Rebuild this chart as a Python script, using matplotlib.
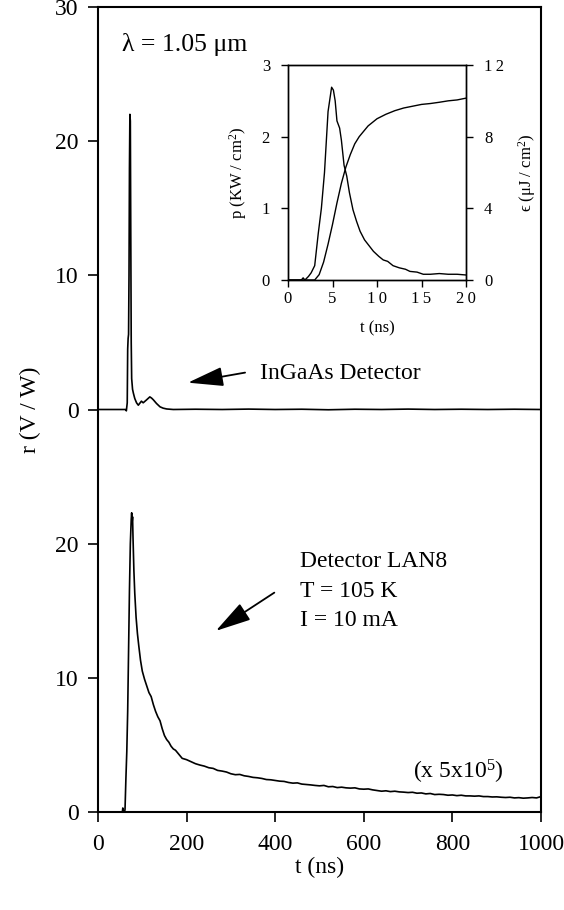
import matplotlib
matplotlib.use("Agg")
import matplotlib.pyplot as plt

plt.rcParams["font.family"] = ["Liberation Serif", "DejaVu Serif"]
plt.rcParams["mathtext.fontset"] = "custom"
plt.rcParams["mathtext.rm"] = "Liberation Serif"
plt.rcParams["mathtext.it"] = "Liberation Serif:italic"

# ---- InGaAs reference detector response r (V/W) vs t (ns)
t_ingaas = [0, 50, 62, 64, 66, 67, 68, 69, 70, 71, 72, 73, 74, 75, 76, 78, 80, 83,
            87, 91, 94, 98, 102, 109, 114, 117, 121, 125, 132, 140, 147, 155, 170,
            220, 280, 340, 400, 460, 520, 580, 640, 700, 760, 820, 880, 940, 1000]
r_ingaas = [0, 0, 0, -0.1, 0.5, 4.5, 5.3, 5.6, 10, 18, 22, 21.5, 13, 5, 2.3, 1.5, 1.2, 0.82,
            0.5, 0.32, 0.45, 0.62, 0.5, 0.7, 0.85, 0.94, 0.85, 0.72, 0.45, 0.2, 0.1, 0.04, 0,
            0.02, 0, 0.03, 0, 0.02, -0.02, 0.02, 0, 0.03, 0, 0.02, 0, 0.02, 0]

# ---- LAN8 detector response (T = 105 K, I = 10 mA), shown multiplied by 5x10^5
t_lan8 = [0, 50, 55, 56, 57, 60, 61, 63, 65, 67, 69, 71, 73, 75, 76, 77, 78, 79, 81, 83,
          86, 89, 92, 96, 100, 105, 110, 115, 120, 125, 130, 135, 140, 145, 150, 155,
          160, 165, 170, 175, 180, 185, 190, 195, 200, 210, 220, 230, 240, 250, 260,
          270, 280, 290, 300, 310, 320, 330, 340, 350, 360, 370, 380, 390, 400, 410,
          420, 430, 440, 450, 460, 470, 480, 490, 500, 510, 520, 530, 540, 550, 560,
          570, 580, 590, 600, 610, 620, 630, 640, 650, 660, 670, 680, 690, 700, 710,
          720, 730, 740, 750, 760, 770, 780, 790, 800, 810, 820, 830, 840, 850, 860,
          870, 880, 890, 900, 910, 920, 930, 940, 950, 960, 970, 980, 990, 1000]
r_lan8 = [0, 0, 0, 0.3, 0, 0, 0.2, 2.5, 4.5, 7.5, 12, 16.5, 20, 21.8, 22.3, 21.6, 22.0, 20.5, 18, 16.3,
          14.5, 13.3, 12.4, 11.3, 10.5, 9.9, 9.4, 8.9, 8.6, 8.0, 7.5, 7.1, 6.8, 6.2, 5.7, 5.4,
          5.2, 4.9, 4.7, 4.6, 4.4, 4.2, 4.0, 3.95, 3.9, 3.75, 3.6, 3.5, 3.42, 3.3, 3.25,
          3.1, 3.05, 2.98, 2.85, 2.78, 2.8, 2.7, 2.65, 2.58, 2.55, 2.5, 2.42, 2.4, 2.35, 2.3,
          2.28, 2.2, 2.15, 2.17, 2.08, 2.05, 2.02, 1.98, 1.95, 1.98, 1.88, 1.9, 1.82, 1.85, 1.8,
          1.78, 1.8, 1.72, 1.7, 1.72, 1.65, 1.6, 1.55, 1.58, 1.52, 1.55, 1.5, 1.48, 1.45, 1.47,
          1.4, 1.42, 1.35, 1.38, 1.3, 1.32, 1.3, 1.25, 1.27, 1.22, 1.25, 1.2, 1.2, 1.18, 1.2,
          1.15, 1.15, 1.12, 1.13, 1.1, 1.08, 1.1, 1.05, 1.07, 1.03, 1.05, 1.08, 1.05, 1.15]

# ---- laser pulse (inset): power density p (KW/cm^2) and energy density (uJ/cm^2)
t_pulse = [0, 1.5, 1.7, 1.9, 2.3, 2.6, 3.0, 3.4, 3.75, 4.1, 4.5, 4.9, 5.1, 5.3, 5.5, 5.8,
           6.0, 6.3, 6.6, 6.9, 7.3, 7.7, 8.1, 8.6, 9.1, 9.6, 10.2, 10.7, 11.2, 11.8,
           12.5, 13.2, 13.7, 14.5, 15.2, 16, 17, 18, 19, 20]
p_pulse = [0, 0, 0.03, 0, 0.05, 0.1, 0.2, 0.65, 1.0, 1.5, 2.35, 2.69, 2.65, 2.5, 2.22, 2.12,
           1.95, 1.6, 1.45, 1.22, 0.98, 0.82, 0.68, 0.56, 0.48, 0.40, 0.33, 0.28, 0.26, 0.2,
           0.17, 0.15, 0.12, 0.11, 0.08, 0.08, 0.09, 0.08, 0.08, 0.07]
t_energy = [0, 3.0, 3.5, 4.0, 4.5, 5.0, 5.5, 6.0, 6.5, 7.0, 7.5, 8.0, 8.5, 9.0, 9.5, 10,
            11, 12, 13, 14, 15, 16, 17, 18, 19, 20]
e_energy = [0, 0, 0.3, 1.0, 2.0, 3.1, 4.3, 5.4, 6.3, 7.0, 7.6, 8.0, 8.3, 8.6, 8.8, 9.0,
            9.25, 9.45, 9.6, 9.7, 9.8, 9.85, 9.92, 10.0, 10.05, 10.15]

# the two detector traces share one frame; the LAN8 trace sits 30 units lower
lan8_offset = -30
main_xticks = [0, 200, 400, 600, 800, 1000]
main_yticks = [-30, -20, -10, 0, 10, 20, 30]
main_ylabels = ["0", "10", "20", "0", "10", "20", "30"]
inset_xticks = [0, 5, 10, 15, 20]
inset_xlabels = ["0", "5", "1\u20090", "1\u20095", "2\u20090"]
inset_pticks = [0, 1, 2, 3]
inset_eticks = [0, 4, 8, 12]
inset_elabels = ["0", "4", "8", "1\u20092"]

W, H = 564, 910
fig = plt.figure(figsize=(W / 100, H / 100), dpi=100)


def px_box(x0, y0, x1, y1):
    return [x0 / W, 1 - y1 / H, (x1 - x0) / W, (y1 - y0) / H]


ax = fig.add_axes(px_box(98, 7, 541, 812))
ax.set_xlim(0, 1000)
ax.set_ylim(-30, 30)
for s in ax.spines.values():
    s.set_linewidth(1.5)
ax.plot(t_ingaas, r_ingaas, color="black", lw=1.2)
ax.plot(t_lan8, [v + lan8_offset for v in r_lan8], color="black", lw=1.2, clip_on=False)
ax.set_xticks(main_xticks)
ax.set_xticklabels([str(v) for v in main_xticks])
ax.set_yticks(main_yticks)
ax.set_yticklabels(main_ylabels)
ax.tick_params(direction="out", length=7, width=1.2, labelsize=17)
ax.tick_params(axis="x", pad=9)
ax.tick_params(axis="y", pad=7)

fig.text(30 / W, 1 - 410 / H, "r (V / W)", rotation=90, ha="center", va="center", fontsize=17)
fig.text(320 / W, 1 - 867 / H, "t (ns)", ha="center", va="center", fontsize=17)

ax.text(54, 27.2, "\u03bb = 1.05 \u03bcm", ha="left", va="center", fontsize=18.5)
ax.text(366, 2.7, "InGaAs Detector", ha="left", va="center", fontsize=17)
arrow = dict(arrowstyle="-|>,head_length=1.1,head_width=0.3", mutation_scale=20,
             lw=1.3, color="black", shrinkA=0, shrinkB=0)
ax.annotate("", xy=(203, 2.0), xytext=(332, 2.75), arrowprops=arrow)
ax.text(455, -11.3, "Detector LAN8", ha="left", va="center", fontsize=17)
ax.text(455, -13.55, "T = 105 K", ha="left", va="center", fontsize=17)
ax.text(455, -15.7, "I = 10 mA", ha="left", va="center", fontsize=17)
ax.annotate("", xy=(266, -16.5), xytext=(398, -13.65), arrowprops=arrow)
ax.text(712, -27.0, "(x 5x10$^{5}$)", ha="left", va="center", fontsize=17)

# ---- inset: incident laser pulse
axi = fig.add_axes(px_box(288, 65, 466, 280))
axi.set_xlim(0, 20)
axi.set_ylim(0, 3)
axi.plot(t_pulse, p_pulse, color="black", lw=1.0)
axi.set_xticks(inset_xticks)
axi.set_xticklabels(inset_xlabels)
axi.set_yticks(inset_pticks)
axi.set_yticklabels([str(v) for v in inset_pticks])
axi.tick_params(direction="out", length=5, width=1.0, labelsize=12)
axi.tick_params(axis="x", pad=3)
axi.tick_params(axis="y", pad=8)
axr = axi.twinx()
axr.set_ylim(0, 12)
axr.plot(t_energy, e_energy, color="black", lw=1.0)
axr.set_yticks(inset_eticks)
axr.set_yticklabels(inset_elabels)
axr.tick_params(direction="out", length=5, width=1.0, labelsize=12, pad=8)
for a in (axi, axr):
    for s in a.spines.values():
        s.set_linewidth(1.0)

fig.text(238 / W, 1 - 173 / H, "p (KW / cm$^{2}$)", rotation=90, ha="center", va="center", fontsize=12)
fig.text(527 / W, 1 - 173 / H, "\u03f5 (\u03bcJ / cm$^{2}$)", rotation=90, ha="center", va="center",
         fontsize=12)
fig.text(377 / W, 1 - 328 / H, "t (ns)", ha="center", va="center", fontsize=12)

fig.savefig("out.png", dpi=100)
